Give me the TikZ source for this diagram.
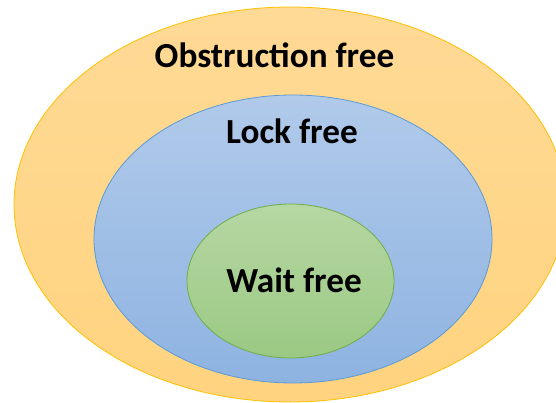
\documentclass[tikz,border=0pt]{standalone}
\usepackage{fontspec}
\setmainfont{Carlito}
\usetikzlibrary{shapes.geometric}
\definecolor{orfill1}{HTML}{FFDA96}
\definecolor{orfill2}{HTML}{FFD37F}
\definecolor{orline}{HTML}{FFC000}
\definecolor{blfill1}{HTML}{B1CAEA}
\definecolor{blfill2}{HTML}{8EB3E1}
\definecolor{blline}{HTML}{5B9BD5}
\definecolor{grfill1}{HTML}{B6D7A3}
\definecolor{grfill2}{HTML}{9AC983}
\definecolor{grline}{HTML}{70AD47}
\tikzset{
  blob/.style={ellipse, inner sep=0pt, line width=0.8pt},
  lbl/.style={anchor=base, font=\bfseries\fontsize{35.2}{40}\selectfont, inner sep=0pt}
}
\begin{document}
\begin{tikzpicture}[x=1pt,y=-1pt]
\useasboundingbox (0,0) rectangle (556,403);
\clip (0,0) rectangle (556,403);
\node[blob, draw=orline, top color=orfill1, bottom color=orfill2, minimum width=552pt, minimum height=395pt] (outer) at (290,204.5) {};
\node[blob, draw=blline, top color=blfill1, bottom color=blfill2, minimum width=398pt, minimum height=288pt] (middle) at (293,239) {};
\node[blob, draw=grline, top color=grfill1, bottom color=grfill2, minimum width=207pt, minimum height=154pt] (inner) at (290.5,281) {};
\node[lbl] (obs) at (274.5,68) {Obstruction free};
\node[lbl] (lock) at (292,144) {Lock free};
\node[lbl] (wait) at (294,292) {Wait free};
\end{tikzpicture}
\end{document}
